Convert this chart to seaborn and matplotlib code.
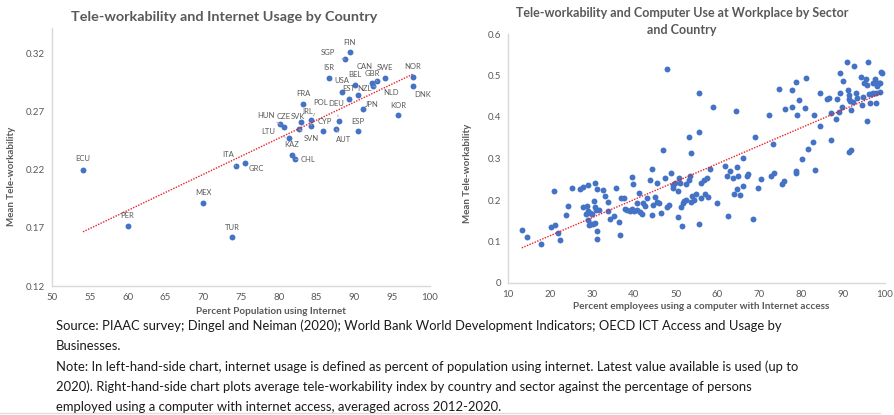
import matplotlib
matplotlib.use("Agg")
import numpy as np
import pandas as pd
import matplotlib.pyplot as plt
import seaborn as sns

# ---- Left panel: tele-workability vs. internet usage, by country ----
countries = ['FIN', 'SGP', 'ISR', 'SWE', 'NOR', 'DNK', 'CAN', 'GBR', 'NLD', 'BEL',
             'USA', 'EST', 'NZL', 'JPN', 'KOR', 'FRA', 'DEU', 'POL', 'IRL', 'CYP',
             'SVK', 'SVN', 'HUN', 'CZE', 'LTU', 'KAZ', 'CHL', 'AUT', 'ESP', 'ITA',
             'GRC', 'MEX', 'TUR', 'PER', 'ECU']
internet_pct = [89.4, 88.7, 86.6, 94.1, 97.7, 97.7, 92.3, 93.0, 92.5, 90.1,
                88.3, 89.3, 90.5, 91.1, 95.8, 83.2, 87.9, 84.3, 84.3, 85.9,
                82.9, 82.7, 80.2, 80.7, 81.4, 81.7, 82.2, 87.6, 90.5, 74.3,
                75.5, 70.0, 73.8, 60.0, 54.1]
telework_country = [0.321, 0.315, 0.299, 0.299, 0.300, 0.292, 0.295, 0.296, 0.292, 0.293,
                    0.287, 0.281, 0.284, 0.272, 0.267, 0.277, 0.262, 0.263, 0.258, 0.253,
                    0.261, 0.255, 0.259, 0.257, 0.247, 0.233, 0.229, 0.255, 0.253, 0.223,
                    0.226, 0.191, 0.162, 0.172, 0.220]

# ---- Right panel: tele-workability vs. computer use, by sector and country ----
computer_pct = [
    13.3, 14.6, 17.8, 20.2, 21.2, 22.0, 22.5, 20.9, 23.8, 24.3,
    25.2, 27.3, 27.8, 29.2, 30.8, 31.3, 32.7, 33.2, 30.5, 27.9,
    28.8, 29.2, 28.6, 29.5, 30.0, 30.8, 31.1, 31.8, 33.8, 33.8,
    34.3, 35.4, 35.7, 36.4, 36.8, 29.2, 29.7, 30.3, 30.8, 31.3,
    31.3, 29.4, 37.0, 37.6, 38.0, 38.4, 39.1, 39.6, 39.6, 39.9,
    40.0, 40.8, 41.3, 41.6, 42.1, 40.8, 42.3, 42.6, 43.1, 44.3,
    44.0, 44.3, 44.7, 45.1, 45.5, 45.6, 46.1, 46.6, 47.0, 47.5,
    48.0, 48.5, 48.8, 49.3, 49.4, 49.9, 50.5, 50.5, 50.9, 51.0,
    51.3, 51.7, 51.5, 52.0, 52.5, 52.6, 53.1, 53.4, 53.6, 53.9,
    53.7, 54.4, 54.8, 55.5, 56.0, 56.1, 56.8, 57.1, 57.4, 57.7,
    58.2, 59.9, 61.9, 62.3, 62.5, 63.0, 63.8, 63.9, 64.7, 64.7,
    65.0, 65.4, 66.0, 66.0, 67.0, 67.4, 68.5, 69.8, 70.5, 72.7,
    73.5, 73.3, 75.5, 76.0, 78.7, 78.7, 83.4,
    48.0, 55.6, 53.2, 55.6, 59.0, 64.4, 68.9, 72.2, 74.8, 76.1,
    77.9, 77.9, 78.8, 78.9, 79.5, 80.3, 80.8, 81.1, 81.5, 82.7,
    83.0, 84.4, 84.4, 86.1, 86.6, 87.0, 87.0, 88.2, 88.5, 88.9,
    89.3, 89.2, 89.7, 89.9, 91.0, 91.1, 91.3, 91.3, 91.6, 92.0,
    91.3, 92.0, 92.3, 92.6, 93.0, 93.2, 94.2, 94.4, 94.8, 95.0,
    95.5, 95.6, 96.0, 95.8, 96.1, 96.4, 96.7, 97.1, 97.2, 97.6,
    97.8, 97.9, 98.0, 98.2, 98.5, 98.8, 98.8, 99.0, 99.2,
]
telework_sector = [
    0.127, 0.111, 0.095, 0.135, 0.140, 0.121, 0.103, 0.221, 0.165, 0.186,
    0.230, 0.226, 0.232, 0.237, 0.240, 0.226, 0.225, 0.209, 0.197, 0.183,
    0.185, 0.174, 0.166, 0.169, 0.167, 0.183, 0.175, 0.175, 0.195, 0.174,
    0.155, 0.161, 0.228, 0.147, 0.115, 0.151, 0.143, 0.143, 0.145, 0.126,
    0.105, 0.139, 0.206, 0.206, 0.179, 0.177, 0.174, 0.179, 0.256, 0.238,
    0.174, 0.177, 0.216, 0.171, 0.166, 0.192, 0.192, 0.185, 0.206, 0.163,
    0.249, 0.274, 0.187, 0.208, 0.241, 0.196, 0.193, 0.169, 0.320, 0.252,
    0.183, 0.187, 0.264, 0.236, 0.228, 0.240, 0.222, 0.159, 0.254, 0.240,
    0.183, 0.193, 0.138, 0.198, 0.201, 0.238, 0.249, 0.259, 0.196, 0.209,
    0.314, 0.200, 0.214, 0.143, 0.204, 0.241, 0.248, 0.214, 0.254, 0.208,
    0.274, 0.193, 0.282, 0.257, 0.161, 0.270, 0.254, 0.214, 0.280, 0.227,
    0.259, 0.212, 0.233, 0.301, 0.259, 0.262, 0.154, 0.228, 0.250, 0.257,
    0.265, 0.336, 0.239, 0.246, 0.270, 0.264, 0.273,
    0.516, 0.458, 0.351, 0.363, 0.424, 0.415, 0.351, 0.406, 0.467, 0.419,
    0.465, 0.423, 0.484, 0.404, 0.441, 0.299, 0.421, 0.493, 0.322, 0.340,
    0.404, 0.378, 0.457, 0.443, 0.446, 0.345, 0.409, 0.396, 0.443, 0.411,
    0.505, 0.458, 0.425, 0.486, 0.532, 0.465, 0.453, 0.443, 0.439, 0.417,
    0.316, 0.320, 0.435, 0.523, 0.459, 0.446, 0.497, 0.428, 0.448, 0.481,
    0.492, 0.390, 0.532, 0.476, 0.455, 0.433, 0.455, 0.457, 0.481, 0.491,
    0.433, 0.457, 0.481, 0.474, 0.482, 0.460, 0.482, 0.508, 0.506,
]

left_xticks = list(range(50, 101, 5))
left_yticks = [0.12, 0.17, 0.22, 0.27, 0.32]
right_xticks = list(range(10, 101, 10))
right_yticks = [0, 0.1, 0.2, 0.3, 0.4, 0.5, 0.6]

# label placement: (dx, dy) in pixels from the dot, and whether a leader line is drawn
LABEL_POS = {
    'FIN': (0, 10, False), 'SGP': (-17, 7, True), 'ISR': (0, 10, False),
    'SWE': (0, 10, False), 'NOR': (0, 10, False), 'DNK': (10, -8, False),
    'CAN': (-7, 16, False), 'GBR': (-5, 8, True), 'NLD': (18, -6, True),
    'BEL': (0, 10, False), 'USA': (0, 11, False), 'EST': (0, 10, False),
    'NZL': (6, 7, False), 'JPN': (9, 5, False), 'KOR': (0, 10, False),
    'FRA': (0, 10, False), 'DEU': (-2, 17, True), 'POL': (9, 17, True),
    'IRL': (-4, 14, True), 'CYP': (1, 10, False), 'SVK': (-3, 6, False),
    'SVN': (12, -9, True), 'HUN': (-14, 9, True), 'CZE': (0, 10, False),
    'LTU': (-21, 7, True), 'KAZ': (0, 10, False), 'CHL': (13, 0, True),
    'AUT': (7, -10, True), 'ESP': (0, 10, False), 'ITA': (-8, 12, True),
    'GRC': (12, -6, False), 'MEX': (0, 11, False), 'TUR': (0, 10, False),
    'PER': (0, 10, False), 'ECU': (0, 11, False),
}

DOT = '#4472C4'
TREND = '#E8202A'
GREY = '#595959'
AXIS = '#D9D9D9'

sns.set_theme(style="white")
plt.rcParams['font.family'] = ['Lato', 'DejaVu Sans']

W, H = 895, 415
fig = plt.figure(figsize=(W / 100, H / 100), dpi=100)


def px_axes(x0, y0, x1, y1):
    return fig.add_axes([x0 / W, 1 - y1 / H, (x1 - x0) / W, (y1 - y0) / H])


def style_axes(ax):
    sns.despine(ax=ax)
    for side in ('left', 'bottom'):
        ax.spines[side].set_color(AXIS)
        ax.spines[side].set_linewidth(1.0)
    ax.tick_params(axis='both', length=0, labelsize=7, labelcolor=GREY, pad=5)
    ax.set_xlabel('')
    ax.set_ylabel('')


scatter_kws = dict(s=18, color=DOT, linewidths=0, alpha=1)
line_kws = dict(color=TREND, lw=1.0, ls=(0, (1, 1)))

# ---------------- left chart ----------------
df_country = pd.DataFrame({'country': countries, 'internet': internet_pct,
                           'telework': telework_country})
axL = px_axes(52, 28, 430, 286)
sns.regplot(data=df_country, x='internet', y='telework', ax=axL, ci=None,
            scatter_kws=scatter_kws, line_kws=line_kws)
axL.set_xlim(50, 100)
axL.set_ylim(0.12, 0.342)
axL.set_xticks(left_xticks)
axL.set_yticks(left_yticks)
axL.set_yticklabels([f'{v:.2f}' for v in left_yticks])
style_axes(axL)

for name, xv, yv in zip(countries, internet_pct, telework_country):
    dx, dy, leader = LABEL_POS[name]
    arrow = dict(arrowstyle='-', color='#A6A6A6', lw=0.6, shrinkA=3, shrinkB=3) if leader else None
    axL.annotate(name, (xv, yv), xytext=(dx, dy), textcoords='offset pixels',
                 ha='center', va='center', fontsize=5.5, color=GREY,
                 arrowprops=arrow)

fig.text(224 / W, 1 - 17 / H, 'Tele-workability and Internet Usage by Country',
         ha='center', va='center', fontsize=10.4, fontweight='bold', color=GREY)
fig.text(12 / W, 1 - 176 / H, 'Mean Tele-workability', rotation=90,
         ha='center', va='center', fontsize=7, fontweight='bold', color=GREY)
fig.text(271 / W, 1 - 311 / H, 'Percent Population using Internet',
         ha='center', va='center', fontsize=7.2, fontweight='bold', color=GREY)

# ---------------- right chart ----------------
df_sector = pd.DataFrame({'computer': computer_pct, 'telework': telework_sector})
axR = px_axes(508, 34, 885, 283)
sns.regplot(data=df_sector, x='computer', y='telework', ax=axR, ci=None,
            scatter_kws=scatter_kws, line_kws=line_kws)
axR.set_xlim(10, 100)
axR.set_ylim(0, 0.6)
axR.set_xticks(right_xticks)
axR.set_yticks(right_yticks)
axR.set_yticklabels(['0' if v == 0 else f'{v:.1f}' for v in right_yticks])
style_axes(axR)

fig.text(682 / W, 1 - 13 / H, 'Tele-workability and Computer Use at Workplace by Sector',
         ha='center', va='center', fontsize=9, fontweight='bold', color=GREY)
fig.text(682 / W, 1 - 29.5 / H, 'and Country',
         ha='center', va='center', fontsize=9, fontweight='bold', color=GREY)
fig.text(468 / W, 1 - 173 / H, 'Mean Tele-workability', rotation=90,
         ha='center', va='center', fontsize=7, fontweight='bold', color=GREY)
fig.text(701 / W, 1 - 306 / H, 'Percent employees using a computer with Internet access',
         ha='center', va='center', fontsize=7.2, fontweight='bold', color=GREY)

# ---------------- source and notes ----------------
notes = [
    'Source: PIAAC survey; Dingel and Neiman (2020); World Bank World Development Indicators; OECD ICT Access and Usage by',
    'Businesses.',
    'Note: In left-hand-side chart, internet usage is defined as percent of population using internet. Latest value available is used (up to',
    '2020). Right-hand-side chart plots average tele-workability index by country and sector against the percentage of persons',
    'employed using a computer with internet access, averaged across 2012-2020.',
]
for i, line in enumerate(notes):
    fig.text(56 / W, 1 - (326 + 20.2 * i) / H, line, ha='left', va='center',
             fontsize=9.4, color='#1A1A1A')

fig.add_artist(plt.Line2D([0, 880 / W], [1 - 413 / H, 1 - 413 / H],
                          color='#E0E0E0', lw=1.0))

fig.savefig('out.png', dpi=100)
